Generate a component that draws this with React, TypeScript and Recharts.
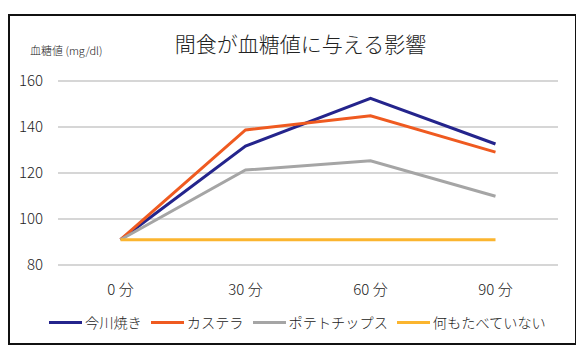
import React from 'react';
import { LineChart, Line, XAxis, YAxis, CartesianGrid } from 'recharts';

const categories = ['0 分', '30 分', '60 分', '90 分'];
const imagawayaki = [91, 131.7, 152.5, 132.6];
const castella = [91, 138.7, 144.9, 129.1];
const potatoChips = [91, 121.3, 125.3, 109.9];
const nothing = [91, 91, 91, 91];
const yTicks = [80, 100, 120, 140, 160];

const series = [
  { key: 's1', name: '今川焼き', values: imagawayaki, color: '#24248C' },
  { key: 's2', name: 'カステラ', values: castella, color: '#EF5A20' },
  { key: 's3', name: 'ポテトチップス', values: potatoChips, color: '#A5A5A5' },
  { key: 's4', name: '何もたべていない', values: nothing, color: '#FBB52F' },
];

const data = categories.map((c, i) => {
  const row: Record<string, string | number> = { cat: c };
  series.forEach((s) => {
    row[s.key] = s.values[i];
  });
  return row;
});

const FONT = '"Noto Sans CJK JP", "Noto Sans", sans-serif';

export default function App() {
  return (
    <div
      style={{
        position: 'relative',
        marginTop: 6,
        width: 569,
        height: 331,
        boxSizing: 'border-box',
        border: '2px solid #111',
        fontFamily: FONT,
        fontWeight: 300,
        background: '#fff',
      }}
    >
      <div style={{ position: 'absolute', left: -2, top: -2 }}>
        <LineChart
          width={569}
          height={331}
          data={data}
          margin={{ top: 67, right: 19, left: 0, bottom: 50 }}
        >
          <CartesianGrid vertical={false} stroke="#C8C8C8" strokeWidth={1.3} />
          <XAxis
            dataKey="cat"
            height={30}
            axisLine={false}
            tickLine={false}
            tickSize={0}
            tickMargin={19}
            padding={{ left: 62.5, right: 62.5 }}
            tick={{ fontSize: 15, fill: '#222', fontFamily: FONT, fontWeight: 300 }}
            interval={0}
          />
          <YAxis
            width={50}
            domain={[80, 160]}
            ticks={yTicks}
            axisLine={false}
            tickLine={false}
            tickSize={0}
            tickMargin={15}
            tick={{ fontSize: 15, fill: '#222', fontFamily: FONT, fontWeight: 300 }}
          />
          {series.map((s) => (
            <Line
              key={s.key}
              dataKey={s.key}
              name={s.name}
              stroke={s.color}
              strokeWidth={3}
              dot={false}
              activeDot={false}
              isAnimationActive={false}
              strokeLinejoin="miter"
            />
          ))}
        </LineChart>
      </div>
      <div
        style={{
          position: 'absolute',
          left: 20,
          top: 26,
          fontSize: 11,
          color: '#222',
          lineHeight: '16px',
          whiteSpace: 'nowrap',
        }}
      >
        血糖値 (mg/dl)
      </div>
      <div
        style={{
          position: 'absolute',
          left: 0,
          width: 565,
          top: 13,
          textAlign: 'center',
          fontSize: 21,
          color: '#222',
          lineHeight: '28px',
          whiteSpace: 'nowrap',
        }}
      >
        <span style={{ position: 'relative', left: 8 }}>間食が血糖値に与える影響</span>
      </div>
      <div
        style={{
          position: 'absolute',
          left: 39,
          top: 296,
          height: 20,
          display: 'flex',
          alignItems: 'center',
          fontSize: 14.2,
          color: '#222',
          whiteSpace: 'nowrap',
        }}
      >
        {series.map((s, i) => (
          <div key={s.key} style={{ display: 'flex', alignItems: 'center', marginLeft: i === 0 ? 0 : 9 }}>
            <div style={{ width: 33, height: 3, background: s.color, marginRight: 3 }} />
            <span style={{ lineHeight: '20px' }}>{s.name}</span>
          </div>
        ))}
      </div>
    </div>
  );
}
